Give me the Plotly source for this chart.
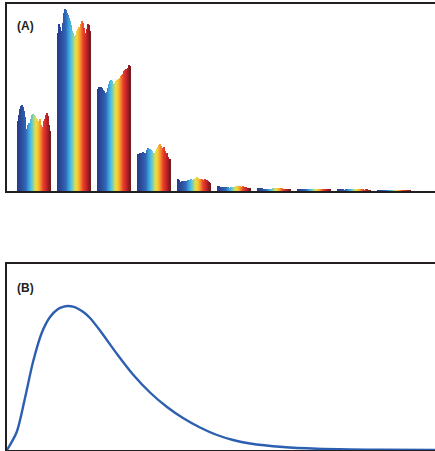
import plotly.graph_objects as go
from plotly.colors import sample_colorscale

# ---- Panel A: ten groups of 33 thin bars, coloured along a spectral ramp ----
group_1 = [70, 76, 82, 85, 86, 84, 80, 74, 62, 60, 66, 68, 67, 72, 76, 77, 76,
           75, 73, 72, 69, 70, 72, 66, 62, 64, 70, 72, 76, 78, 75, 66, 60]
group_2 = [158, 167, 164, 158, 160, 168, 178, 182, 181, 178, 176, 173, 170, 166, 160, 158, 155,
           153, 156, 160, 162, 164, 162, 167, 170, 168, 163, 158, 155, 162, 167, 166, 160]
group_3 = [102, 104, 103, 104, 103, 101, 100, 98, 97, 99, 103, 107, 110, 111, 110, 107, 106,
           108, 110, 111, 112, 111, 113, 115, 116, 117, 120, 121, 122, 120, 123, 126, 125]
group_4 = [37, 37, 38, 38, 37, 39, 38, 35, 38, 41, 43, 42, 42, 41, 40, 38, 37,
           38, 40, 42, 44, 46, 47, 45, 41, 43, 44, 40, 37, 38, 34, 31, 32]
group_5 = [12, 11, 9, 9, 10, 10, 10, 9, 10, 10, 11, 10, 11, 12, 11, 11, 12,
           12, 13, 14, 13, 12, 12, 12, 12, 11, 11, 12, 11, 11, 10, 9, 8]
group_6 = [5, 5, 4, 4, 4, 4, 4, 3, 4, 4, 4, 3, 3, 4, 4, 4, 4,
           4, 5, 5, 4, 5, 5, 4, 4, 5, 4, 4, 4, 3, 3, 3, 3]
group_7 = [3, 3, 3, 2, 3, 2, 2, 2, 2, 2, 2, 2, 2, 2, 2, 3, 3,
           3, 3, 2, 3, 3, 3, 3, 3, 2, 2, 2, 2, 2, 2, 2, 2]
group_8 = [2, 2, 2, 2, 2, 1.5, 1.5, 1.5, 2, 2, 2, 2, 1.5, 1.5, 2, 2, 2,
           2, 2, 2, 2, 2, 2, 1.5, 1.5, 2, 2, 2, 2, 2, 1.5, 1.5, 1.5]
group_9 = [1.5, 1.5, 1.5, 1.5, 1.5, 1.5, 1, 1, 1.5, 1.5, 1.5, 1.5, 1.5, 1, 1.5, 1.5, 1.5,
           1.5, 1.5, 1.5, 1.5, 1.5, 1.5, 1.5, 1.5, 1.5, 1, 1, 1.5, 1.5, 1, 1, 1]
group_10 = [1, 1, 1, 1, 1, 1, 1, 1, 1, 1, 1, 1, 1, 1, 1, 1, 1,
            1, 1, 1, 1, 1, 1, 1, 1, 1, 1, 1, 1, 1, 1, 1, 1]
groups = [group_1, group_2, group_3, group_4, group_5,
          group_6, group_7, group_8, group_9, group_10]

spectral_ramp = [
    [0.00, "#283a8a"], [0.14, "#2c4f9f"], [0.26, "#3068b8"], [0.34, "#3a9ad6"],
    [0.42, "#4cc0e6"], [0.50, "#9cd391"], [0.57, "#e6e23d"], [0.64, "#f7c437"],
    [0.72, "#f38a2e"], [0.80, "#e8412b"], [0.90, "#c9232a"], [1.00, "#7a1a1e"],
]

# ---- Panel B: smooth single-peaked curve ----
curve_x = [0, 9.7, 18, 26, 34.7, 43, 51, 56, 61, 66, 71, 77, 83, 93, 110, 126, 143, 160,
           176, 193, 210, 226, 243, 276, 310, 343, 376, 428]
curve_y = [0, 18, 52, 88, 117, 133, 141, 143.2, 144, 143.3, 141.3, 137.5, 132, 119.5, 96, 75.5, 57.5, 43,
           32, 22.5, 15, 10, 6.5, 3, 1.3, 0.6, 0.3, 0.1]

W, H = 435, 451
n_bars = len(group_1)
bar_colors = sample_colorscale(spectral_ramp, [i / (n_bars - 1) for i in range(n_bars)])

bx, by, bc = [], [], []
for g, vals in enumerate(groups):
    for i, v in enumerate(vals):
        bx.append(g + (i - (n_bars - 1) / 2) / 40)
        by.append(v)
        bc.append(bar_colors[i])

fig = go.Figure()
fig.add_trace(go.Bar(
    x=bx, y=by, width=[1.15 / 40] * len(bx),
    marker=dict(color=bc, line=dict(width=0)),
    xaxis="x", yaxis="y", showlegend=False, hoverinfo="skip",
))
fig.add_trace(go.Scatter(
    x=curve_x, y=curve_y, mode="lines",
    line=dict(color="#2d5fb0", width=2.4, shape="spline", smoothing=0.8),
    xaxis="x2", yaxis="y2", showlegend=False, hoverinfo="skip",
))

frame = dict(showline=True, linecolor="#231f20", linewidth=1.6,
             showgrid=False, zeroline=False, showticklabels=False, ticks="")

fig.update_layout(
    width=W, height=H,
    margin=dict(l=7, r=0, t=0, b=0),
    paper_bgcolor="white", plot_bgcolor="white",
    barmode="overlay",
    xaxis=dict(domain=[0, 1], range=[-0.685, 10.015], mirror=True, anchor="y", **frame),
    yaxis=dict(domain=[1 - 191 / H, 1 - 4 / H], range=[0, 187], anchor="x", **frame),
    xaxis2=dict(domain=[0, 1], range=[0, 428], mirror=True, anchor="y2", **frame),
    yaxis2=dict(domain=[1 - 450 / H, 1 - 264 / H], range=[0, 186], anchor="x2", **frame),
    annotations=[
        dict(text="<b>(A)</b>", xref="paper", yref="paper", x=0.018, y=1 - 26.5 / H,
             xanchor="left", yanchor="middle", showarrow=False,
             font=dict(family="Liberation Sans, Arial", size=12, color="#231f20")),
        dict(text="<b>(B)</b>", xref="paper", yref="paper", x=0.018, y=1 - 287.5 / H,
             xanchor="left", yanchor="middle", showarrow=False,
             font=dict(family="Liberation Sans, Arial", size=12, color="#231f20")),
    ],
)

fig.write_html("out.html")
